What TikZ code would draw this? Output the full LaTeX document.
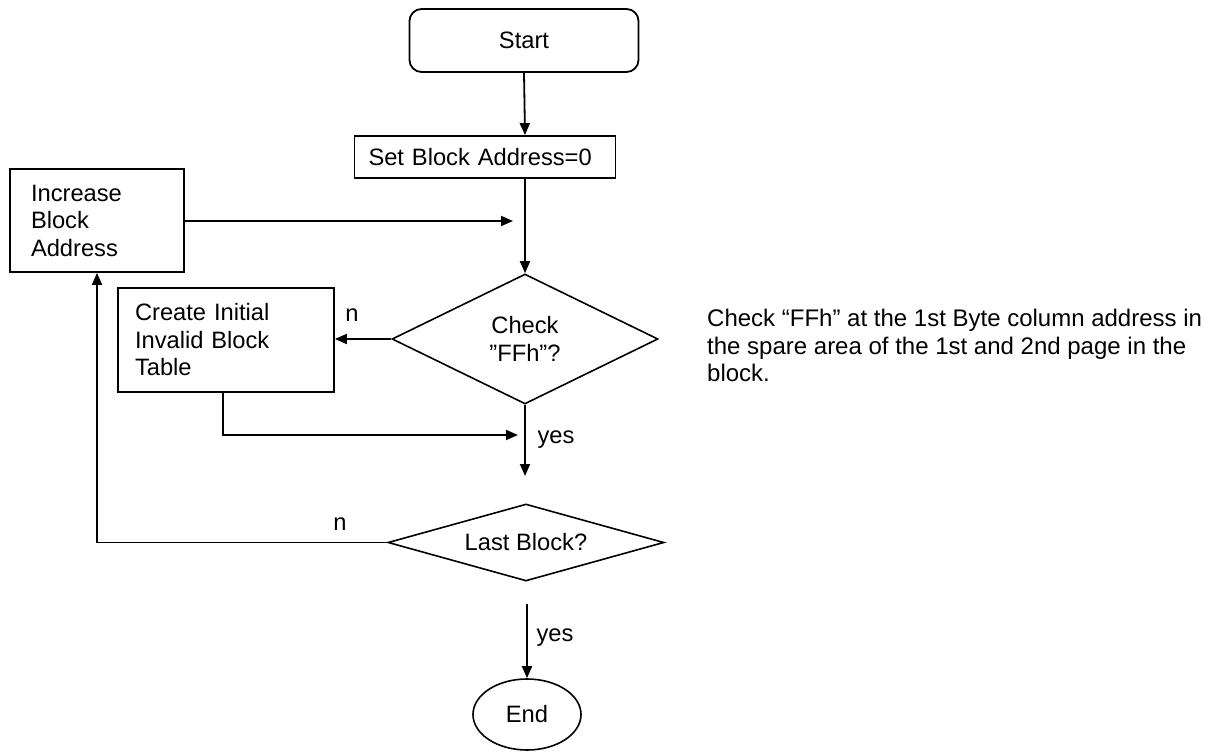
\documentclass[tikz,border=0pt]{standalone}
\usepackage{fontspec}
\setmainfont{Liberation Sans}
\usetikzlibrary{shapes.geometric,arrows.meta}
\begin{document}
\begin{tikzpicture}[x=1pt,y=-1pt,
  every node/.style={font=\fontsize{23.7}{27.5}\selectfont},
  arr/.style={line width=1.8pt,-{Triangle[length=12pt,width=10pt]}},
  boxnode/.style={draw,line width=1.8pt,rectangle,align=left},
  dia/.style={draw,line width=1.6pt,diamond,inner sep=0pt,align=center},
  lbl/.style={inner sep=0pt}]
\useasboundingbox (0,0) rectangle (1210,754);
\node[draw,line width=1.8pt,rounded corners=12pt,minimum width=229pt,minimum height=63pt] (start) at (524,40.5) {Start};
\node[boxnode,minimum width=261pt,minimum height=42pt,text width=233pt,inner xsep=14pt] (set) at (485,157) {Set Block Address=0};
\node[boxnode,minimum width=174pt,minimum height=103pt,text width=132pt,inner xsep=21pt] (inc) at (97,220.5) {Increase\\Block\\Address};
\node[boxnode,minimum width=216pt,minimum height=104pt,text width=182pt,inner xsep=17pt] (cre) at (226,340) {Create Initial\\Invalid Block\\Table};
\node[dia,aspect=2.05,minimum width=266pt,minimum height=130pt] (chk) at (525,339) {Check\\”FFh”?};
\node[dia,aspect=3.6,minimum width=276pt,minimum height=77pt] (last) at (526,542.5) {Last Block?};
\node[draw,line width=1.6pt,ellipse,minimum width=108pt,minimum height=71pt,inner sep=0pt] (end) at (527,714.5) {End};
\node[anchor=north west,align=left,inner sep=0pt,font=\fontsize{24}{27.5}\selectfont] (note) at (707,309)
  {Check “FFh” at the 1st Byte column address in\\the spare area of the 1st and 2nd page in the\\block.};
\coordinate (m1) at (513,221);
\coordinate (m2) at (518,435);
\coordinate (m3) at (524,476);
\coordinate (s4) at (524,604);
\draw[arr] (start.south) -- (set.north -| chk.north);
\draw[arr] (set.south -| chk.north) -- (chk.north);
\draw[arr] (inc.east |- m1) -- (m1);
\draw[arr] (chk.west) -- (cre.east |- chk.west);
\draw[arr] ([xshift=-3pt]cre.south) |- (m2);
\draw[arr] (chk.south) -- (chk.south |- m3);
\draw[arr] (last.west) -| (inc.south);
\draw[arr] (s4 -| end.north) -- (end.north);
\node[lbl] (n1) at (352,315) {n};
\node[lbl] (y1) at (556,440) {yes};
\node[lbl] (n2) at (340,524) {n};
\node[lbl] (y2) at (555,638) {yes};
\end{tikzpicture}
\end{document}
